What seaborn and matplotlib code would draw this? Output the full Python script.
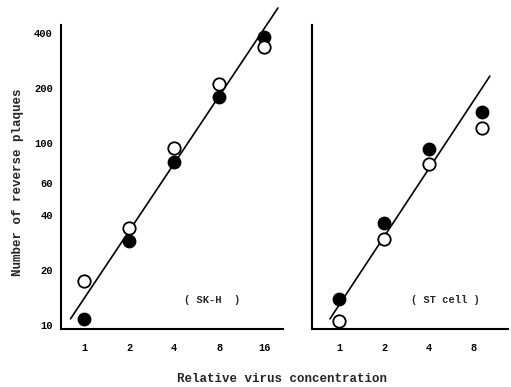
import matplotlib
matplotlib.use("Agg")
import matplotlib.pyplot as plt
import seaborn as sns
import pandas as pd
import numpy as np

# ---- data ----
conc_sk = [1, 2, 4, 8, 16]
sk_filled = [10.8, 28.9, 78.7, 179, 382]
sk_open = [17.5, 34.1, 94, 211, 337]
sk_fit_x = [0.81, 19.8]
sk_fit_y = [10.8, 552]

conc_st = [1, 2, 4, 9]
st_filled = [13.9, 36.3, 92.7, 148]
st_open = [10.5, 29.7, 76.7, 121]
st_fit_x = [0.87, 10.2]
st_fit_y = [10.8, 233]

sk_xticks = [1, 2, 4, 8, 16]
st_xticks = [1, 2, 4, 8]
yticks = [10, 20, 40, 60, 100, 200, 400]

sns.set_theme(style="white")
plt.rcParams['font.family'] = ['Liberation Mono', 'DejaVu Sans']
plt.rcParams['font.weight'] = 'bold'

fig = plt.figure(figsize=(5.11, 3.87), dpi=100)
ax1 = fig.add_axes([0.1194, 0.1499, 0.4344, 0.7855])
ax2 = fig.add_axes([0.6106, 0.1499, 0.3836, 0.7855])


def panel(ax, conc, filled, opened, fx, fy, xticks, xlim, label, show_y):
    df_f = pd.DataFrame({"x": conc, "y": filled})
    df_o = pd.DataFrame({"x": conc, "y": opened})
    ax.set_xscale("log", base=2)
    ax.set_yscale("log")
    sns.lineplot(x=fx, y=fy, ax=ax, color="black", linewidth=1.2, clip_on=False)
    sns.scatterplot(data=df_f, x="x", y="y", ax=ax, s=80, color="black",
                    edgecolor="black", linewidth=1.0, clip_on=False, zorder=3)
    sns.scatterplot(data=df_o, x="x", y="y", ax=ax, s=80, facecolor="white",
                    edgecolor="black", linewidth=1.3, clip_on=False, zorder=3)
    ax.set_xlim(*xlim)
    ax.set_ylim(9.5, 445)
    ax.set_xticks(xticks)
    ax.set_xticklabels([str(t) for t in xticks], fontsize=7.5, fontweight="bold")
    ax.xaxis.set_minor_locator(matplotlib.ticker.NullLocator())
    ax.yaxis.set_minor_locator(matplotlib.ticker.NullLocator())
    ax.set_yticks(yticks)
    if show_y:
        ax.set_yticklabels([str(t) for t in yticks], fontsize=7.5, fontweight="bold")
    else:
        ax.set_yticklabels([])
    ax.tick_params(axis="x", direction="in", length=3, width=1, pad=10, colors="black")
    ax.tick_params(axis="y", direction="in", length=0, pad=6, colors="black")
    for s in ["top", "right"]:
        ax.spines[s].set_visible(False)
    for s in ["left", "bottom"]:
        ax.spines[s].set_color("black")
        ax.spines[s].set_linewidth(1.5)
    ax.set_xlabel("")
    ax.set_ylabel("")
    ax.text(0.68, 0.095, label, transform=ax.transAxes, ha="center", va="center",
            fontsize=7.5, fontweight="bold")
    ax.set_facecolor("white")


panel(ax1, conc_sk, sk_filled, sk_open, sk_fit_x, sk_fit_y, sk_xticks,
      (0.70, 21.4), "( SK-H  )", True)
panel(ax2, conc_st, st_filled, st_open, st_fit_x, st_fit_y, st_xticks,
      (0.66, 13.5), "( ST cell )", False)

fig.text(0.036, 0.53, "Number of reverse plaques", rotation=90, ha="center",
         va="center", fontsize=9, fontweight="bold")
fig.text(0.552, 0.02, "Relative virus concentration", ha="center", va="center",
         fontsize=9, fontweight="bold")

fig.savefig("out.png", dpi=100, facecolor="white")
